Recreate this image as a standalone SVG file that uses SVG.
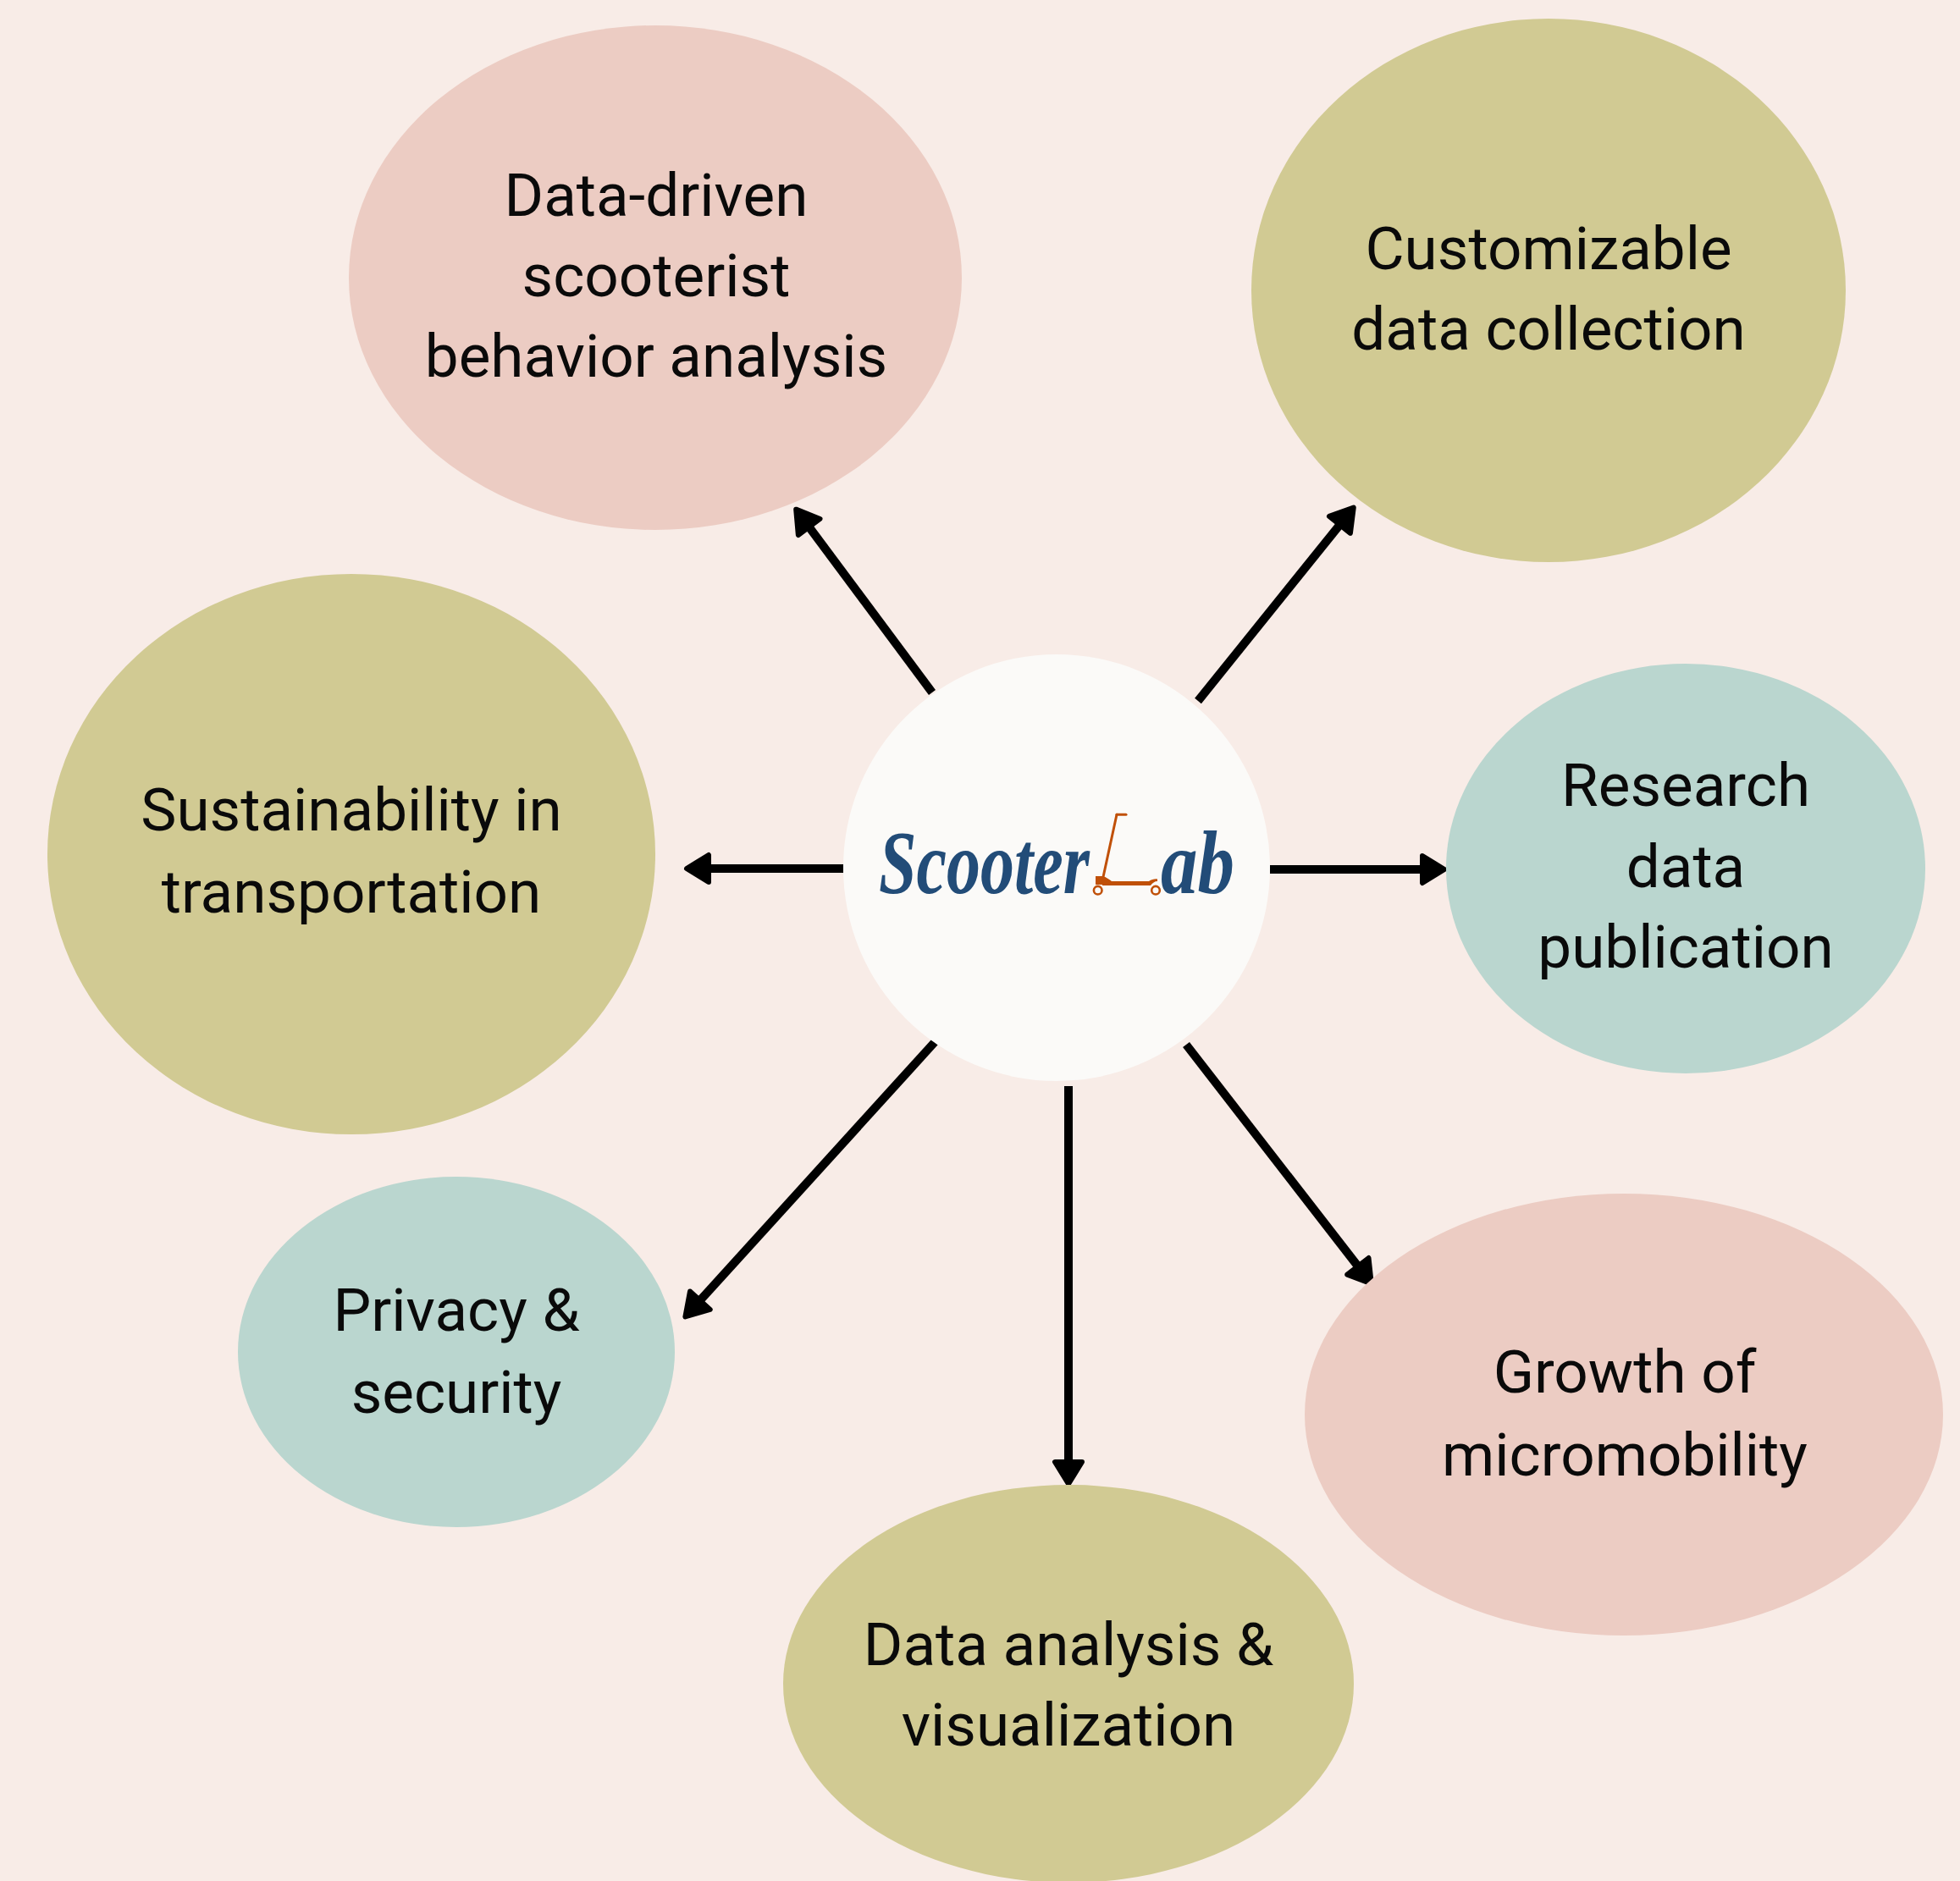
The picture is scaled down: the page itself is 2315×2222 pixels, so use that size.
<svg xmlns="http://www.w3.org/2000/svg" width="2315" height="2222" viewBox="0 0 2315 2222">
<style>
.lbl{font-family:Roboto,"Liberation Sans",sans-serif;font-size:71px;fill:#0a0a0a;text-anchor:middle}
.pink{fill:#ECCCC3}
.olive{fill:#D1CA93}
.teal{fill:#BAD6CF}
.conn{stroke:#000;stroke-width:10;fill:none;marker-end:url(#ah)}
.logo{font-family:"Liberation Serif","DejaVu Serif",serif;font-style:italic;font-weight:bold;fill:#224C78}
.sc{stroke:#C05008;fill:none;stroke-width:3;stroke-linecap:round}
</style>
<defs>
<marker id="ah" markerUnits="userSpaceOnUse" markerWidth="50" markerHeight="50" viewBox="-5 -25 40 50" refX="2" refY="0" orient="auto">
<path d="M0,-16 L26,0 L0,16 Z" fill="#000" stroke="#000" stroke-width="6" stroke-linejoin="round"/>
</marker>
</defs>
<rect width="2315" height="2222" fill="#F8ECE7"/>
<g id="connectors">
<line class="conn" x1="1101" y1="818" x2="954.5" y2="620.9"/>
<line class="conn" x1="1415" y1="828" x2="1583.7" y2="618.3"/>
<line class="conn" x1="996" y1="1026" x2="835" y2="1026"/>
<line class="conn" x1="1500" y1="1027" x2="1682" y2="1027"/>
<line class="conn" x1="1104" y1="1231" x2="825.5" y2="1537.7"/>
<line class="conn" x1="1262" y1="1283" x2="1262" y2="1729"/>
<line class="conn" x1="1401" y1="1234" x2="1605.1" y2="1497.4"/>
</g>
<g id="node-behavior">
<ellipse class="pink" cx="774" cy="328" rx="362" ry="298"/>
<text class="lbl" x="775" y="255">Data-driven</text>
<text class="lbl" x="775" y="350">scooterist</text>
<text class="lbl" x="775" y="445">behavior analysis</text>
</g>
<g id="node-customizable">
<ellipse class="olive" cx="1829" cy="343" rx="351" ry="321"/>
<text class="lbl" x="1829" y="318">Customizable</text>
<text class="lbl" x="1829" y="413">data collection</text>
</g>
<g id="node-sustainability">
<ellipse class="olive" cx="415" cy="1009" rx="359" ry="331"/>
<text class="lbl" x="415" y="981">Sustainability in</text>
<text class="lbl" x="415" y="1078">transportation</text>
</g>
<g id="node-research">
<ellipse class="teal" cx="1991" cy="1026" rx="283" ry="242"/>
<text class="lbl" x="1991" y="952">Research</text>
<text class="lbl" x="1991" y="1048">data</text>
<text class="lbl" x="1991" y="1143">publication</text>
</g>
<g id="node-privacy">
<ellipse class="teal" cx="539" cy="1597" rx="258" ry="207"/>
<text class="lbl" x="539" y="1572">Privacy &amp;</text>
<text class="lbl" x="539" y="1669">security</text>
</g>
<g id="node-analysis">
<ellipse class="olive" cx="1262" cy="1989" rx="337" ry="235"/>
<text class="lbl" x="1262" y="1967">Data analysis &amp;</text>
<text class="lbl" x="1262" y="2062">visualization</text>
</g>
<g id="node-growth">
<ellipse class="pink" cx="1918" cy="1671" rx="377" ry="261"/>
<text class="lbl" x="1919" y="1645">Growth of</text>
<text class="lbl" x="1919" y="1743">micromobility</text>
</g>
<g id="node-scooterlab">
<circle cx="1248" cy="1025" r="252" fill="#FBFAF8"/>
<text class="logo" x="1038" y="1055" font-size="106" textLength="249" lengthAdjust="spacingAndGlyphs">Scooter</text>
<text class="logo" x="1371" y="1055" font-size="106" textLength="87" lengthAdjust="spacingAndGlyphs">ab</text>
<line class="sc" x1="1319" y1="962.3" x2="1303" y2="1036"/>
<line class="sc" x1="1319" y1="962.3" x2="1330" y2="962.3"/>
<path d="M1294,1035 L1302,1035 C1307,1036 1310,1039 1313,1041 L1357,1041 C1360,1039 1364,1038 1367,1038.5 L1367,1041 C1364,1041 1361,1043 1359,1046 L1302,1046 L1302,1045 L1294,1045 Z" fill="#C05008"/>
<circle cx="1296.7" cy="1051.7" r="4.8" fill="none" stroke="#C05008" stroke-width="2.6"/>
<circle cx="1365" cy="1051.7" r="4.8" fill="none" stroke="#C05008" stroke-width="2.6"/>
</g>
</svg>
